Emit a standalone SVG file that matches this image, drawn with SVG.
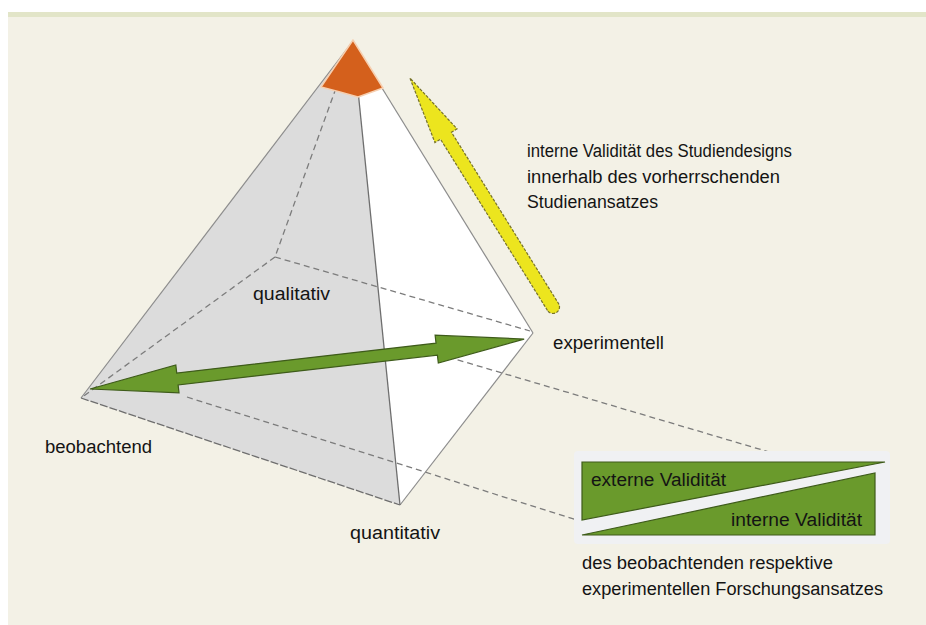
<svg xmlns="http://www.w3.org/2000/svg" width="926" height="625" viewBox="0 0 926 625">
  <style>
    .lbl { font-family: "Liberation Sans", Arial, sans-serif; font-size: 17.6px; fill: #141414; }
    .edge { stroke: #8c8c8c; stroke-width: 1.2; fill: none; }
    .dash { stroke: #7c7c7c; stroke-width: 1.3; fill: none; stroke-dasharray: 6 4; }
    .green { fill: #6a9a2c; stroke: #3e5b1a; stroke-width: 1.2; }
  </style>
  <rect x="0" y="0" width="926" height="625" fill="#ffffff"/>
  <rect x="8" y="12" width="918" height="613" fill="#f3f1e6"/>
  <rect x="8" y="12" width="918" height="5" fill="#e2e5c8"/>

  <g id="pyramid">
    <polygon points="353,41 81,398 400,505" fill="#dcdcdc"/>
    <polygon points="353,41 400,505 533,333" fill="#ffffff"/>
    <g id="hidden-edges">
      <line class="dash" x1="353" y1="41" x2="275" y2="257"/>
      <line class="dash" x1="275" y1="257" x2="81" y2="398"/>
      <line class="dash" x1="275" y1="257" x2="530" y2="331"/>
    </g>
    <line class="edge" x1="353" y1="41" x2="81" y2="398"/>
    <line class="edge" x1="353" y1="41" x2="533" y2="333"/>
    <line class="edge" x1="533" y1="333" x2="400" y2="505"/>
    <line stroke="#6e6e6e" stroke-width="1.3" x1="353" y1="41" x2="400" y2="505"/>
    <line stroke="#6e6e6e" stroke-width="1.3" stroke-dasharray="8 2" x1="81" y1="398" x2="400" y2="505"/>
    <polygon id="apex" points="353,40 321,87 340,92 358,97 383,88" fill="#d4601c" stroke="#f6cfb0" stroke-width="1.5" stroke-linejoin="round"/>
  </g>

  <g id="connectors">
    <line class="dash" x1="187" y1="397" x2="577" y2="520"/>
    <line class="dash" x1="448" y1="357" x2="803" y2="462"/>
    <g id="green-arrow" transform="translate(90,389) rotate(-6.56)">
      <polygon class="green" points="0,0 88,-14 88,-6 349,-6 349,-14 437,0 349,14 349,6 88,6 88,14"/>
    </g>
    <g id="yellow-arrow" transform="translate(553,307) rotate(-122)">
      <path d="M0,-6.5 L202,-6.5 L202,-13 L270,0 L202,13 L202,6.5 L0,6.5 A6.5,6.5 0 0 1 0,-6.5 Z" fill="#ece51e" stroke="#76722c" stroke-width="1.2" stroke-dasharray="3 1.5"/>
    </g>
  </g>

  <g id="validity">
    <rect x="574" y="451" width="316" height="93" fill="#f0f1f3" rx="4"/>
    <polygon points="582,462 885,462 582,520" class="green" fill="#6b8f2a"/>
    <polygon points="582,535 875,473 875,535" class="green" fill="#6b8f2a"/>
    <text class="lbl" x="591" y="486" textLength="135" lengthAdjust="spacingAndGlyphs">externe Validität</text>
    <text class="lbl" x="731" y="526" textLength="131" lengthAdjust="spacingAndGlyphs">interne Validität</text>
  </g>

  <g id="labels">
    <text class="lbl" x="253" y="300" textLength="77" lengthAdjust="spacingAndGlyphs">qualitativ</text>
    <text class="lbl" x="553" y="349" textLength="111" lengthAdjust="spacingAndGlyphs">experimentell</text>
    <text class="lbl" x="45" y="453" textLength="107" lengthAdjust="spacingAndGlyphs">beobachtend</text>
    <text class="lbl" x="350" y="539" textLength="90" lengthAdjust="spacingAndGlyphs">quantitativ</text>
    <text class="lbl" x="527" y="157" textLength="265" lengthAdjust="spacingAndGlyphs">interne Validität des Studiendesigns</text>
    <text class="lbl" x="527" y="182.5" textLength="253" lengthAdjust="spacingAndGlyphs">innerhalb des vorherrschenden</text>
    <text class="lbl" x="527" y="208" textLength="131" lengthAdjust="spacingAndGlyphs">Studienansatzes</text>
    <text class="lbl" x="582" y="569" textLength="251" lengthAdjust="spacingAndGlyphs">des beobachtenden respektive</text>
    <text class="lbl" x="582" y="595" textLength="301" lengthAdjust="spacingAndGlyphs">experimentellen Forschungsansatzes</text>
  </g>
</svg>
